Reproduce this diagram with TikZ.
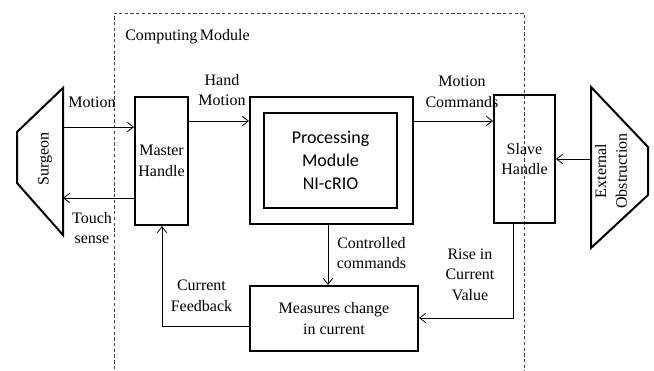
\documentclass[tikz,border=0pt]{standalone}
\usepackage{fontspec}
\setmainfont{Liberation Serif}
\newfontfamily\calfont{Carlito}
\usetikzlibrary{arrows.meta}
\tikzset{
  blk/.style={draw,line width=1.5pt,align=center,inner sep=0pt},
  lbl/.style={align=center,inner sep=0pt},
  flow/.style={-{Straight Barb[length=4.5pt,width=7pt]},line width=0.6pt},
}
\begin{document}
\begin{tikzpicture}[x=0.75pt,y=-0.75pt,font=\fontsize{12}{15.5}\selectfont]
  \useasboundingbox (0,0) rectangle (654,371);
  % computing module frame
  \draw[dash pattern=on 2.5pt off 1.8pt,line width=0.6pt,black!75]
    (114,375) -- (114,13) -- (524,13) -- (524,375);
  \node[lbl,anchor=west] (comp) at (125,37) {Computing\,Module};
  % surgeon and obstruction
  \draw[line width=1.5pt,line join=miter] (17,132) -- (63,88) -- (63,235) -- (17,183) -- cycle;
  \node[lbl,rotate=90] (surgeon) at (45,159) {Surgeon};
  \draw[line width=1.5pt,line join=miter] (591,87) -- (648,147) -- (648,195) -- (591,248) -- cycle;
  \node[lbl,rotate=90] (obst) at (611,171) {External\\Obstruction};
  \coordinate (s1) at (63,127);
  \coordinate (s2) at (63,198);
  \coordinate (o1) at (591,159);
  % blocks
  \node[blk,minimum width=39.75pt,minimum height=96pt] (master) at (161.5,161) {Master\\Handle};
  \node[blk,minimum width=122.25pt,minimum height=95.25pt] (procout) at (331.5,160.5) {};
  \node[blk,minimum width=99.75pt,minimum height=71.25pt,
        font=\calfont\fontsize{13.5}{17}\selectfont] (procin) at (330.5,160.5)
        {Processing\\Module\\NI-cRIO};
  \node[blk,minimum width=45.75pt,minimum height=96pt] (slave) at (524.5,159) {Slave\\Handle};
  \node[blk,minimum width=126pt,minimum height=48.75pt] (measure) at (334,318.5) {Measures change\\in current};
  % labels
  \node[lbl] (lmotion) at (92,102) {Motion};
  \node[lbl] (ltouch) at (92,228) {Touch\\sense};
  \node[lbl] (lhand) at (222,90) {Hand\\Motion};
  \node[lbl] (lcmd) at (462,92) {Motion\\Commands};
  \node[lbl] (lctrl) at (371.5,253) {Controlled\\commands};
  \node[lbl] (lrise) at (470,274.5) {Rise in\\Current\\Value};
  \node[lbl] (lfeed) at (201.5,296) {Current\\Feedback};
  % connectors
  \begin{scope}[flow]
    \draw (s1) -- (s1 -| master.west);
    \draw (master.west |- s2) -- (s2);
    \draw (master.east |- 0,121) -- (procout.west |- 0,121);
    \draw (procout.east |- 0,121) -- (slave.west |- 0,121);
    \draw (o1) -- (o1 -| slave.east);
    \draw (procout.south -| 328,0) -- (measure.north -| 328,0);
    \draw (slave.south -| 513,0) |- (measure.east |- 0,318);
    \draw (measure.west |- 0,326) -| (master.south -| 162,0);
  \end{scope}
\end{tikzpicture}
\end{document}
